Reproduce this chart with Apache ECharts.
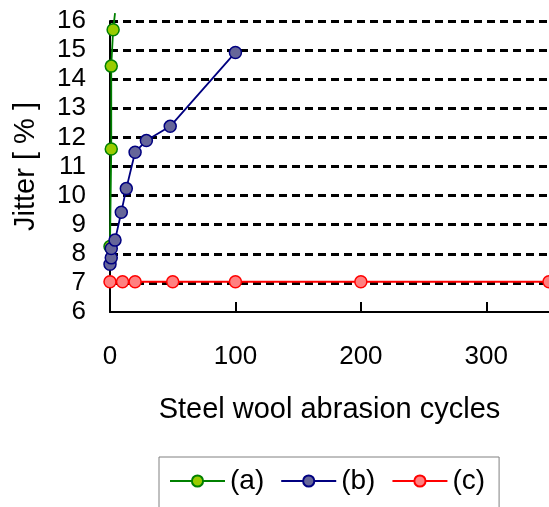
<!DOCTYPE html>
<html>
<head>
<meta charset="utf-8">
<script src="https://cdn.jsdelivr.net/npm/echarts@6/dist/echarts.min.js"></script>
<style>html,body{margin:0;padding:0;background:#fff;}#c{width:549px;height:507px;}</style>
</head>
<body>
<div id="c"></div>
<script>
// Data
const seriesNames = ['(a)', '(b)', '(c)'];
const aX = [0, 1, 1, 2.5, 4];
const aY = [8.25, 11.6, 14.45, 15.7, 16.27];
const bX = [0, 1, 1, 4, 9, 13, 20, 29, 48, 100];
const bY = [7.64, 7.86, 8.18, 8.47, 9.43, 10.24, 11.49, 11.89, 12.38, 14.92];
const cX = [0, 10, 20, 50, 100, 200, 350];
const cY = [7.04, 7.04, 7.04, 7.04, 7.04, 7.04, 7.04];
const xTicks = [0, 100, 200, 300];
const yTicks = [6, 7, 8, 9, 10, 11, 12, 13, 14, 15, 16];

const FONT = '"Liberation Sans", Arial, sans-serif';

function pairs(xs, ys, lastHidden) {
  return xs.map((x, i) => {
    const item = { value: [x, ys[i]] };
    if (lastHidden && i === xs.length - 1 && ys[i] > yTicks[yTicks.length - 1]) {
      item.symbol = 'none';
    }
    return item;
  });
}

const styles = [
  { line: '#008000', fill: '#99CC00', border: '#008000' },
  { line: '#000080', fill: '#666699', border: '#000080' },
  { line: '#FF0000', fill: '#FF8080', border: '#FF0000' }
];
const datas = [pairs(aX, aY, true), pairs(bX, bY, false), pairs(cX, cY, false)];

const chart = echarts.init(document.getElementById('c'), null, { renderer: 'canvas' });
chart.setOption({
  animation: false,
  backgroundColor: '#fff',
  textStyle: { fontFamily: FONT },
  grid: { left: 110, top: 21, right: -1, bottom: 195, containLabel: false },
  legend: {
    left: 159, top: 457,
    padding: [10, 14, 20, 10],
    borderColor: '#808080', borderWidth: 1,
    itemWidth: 55, itemHeight: 14, itemGap: 16,
    textStyle: { fontSize: 28, color: '#000', fontFamily: FONT },
    data: seriesNames
  },
  xAxis: {
    type: 'value', min: 0, max: 350, interval: 100,
    name: 'Steel wool abrasion cycles', nameLocation: 'middle', nameGap: 83,
    nameTextStyle: { fontSize: 29, color: '#000', fontFamily: FONT },
    axisLine: { lineStyle: { color: '#000', width: 2 } },
    axisTick: { show: true, inside: true, length: 10, lineStyle: { color: '#000', width: 2 } },
    axisLabel: { fontSize: 26, color: '#000', margin: 32, showMaxLabel: false, fontFamily: FONT,
      formatter: v => (xTicks.indexOf(v) >= 0 ? String(v) : '') },
    splitLine: { show: false }
  },
  yAxis: {
    type: 'value', min: 6, max: 16, interval: 1,
    name: 'Jitter [ % ]', nameLocation: 'middle', nameGap: 70, nameRotate: 90,
    nameTextStyle: { fontSize: 29, color: '#000', fontFamily: FONT },
    axisLine: { show: true, lineStyle: { color: '#000', width: 2 } },
    axisTick: { show: false },
    axisLabel: { fontSize: 26, color: '#000', margin: 24, fontFamily: FONT,
      formatter: v => (yTicks.indexOf(v) >= 0 ? String(v) : '') },
    splitLine: { show: true, showMinLine: false, lineStyle: { color: '#000', width: 3, type: [8, 5] } }
  },
  series: seriesNames.map((n, i) => ({
    name: n, type: 'line', data: datas[i],
    clip: i !== 0 ? true : false,
    symbol: 'circle', symbolSize: 12,
    lineStyle: { color: styles[i].line, width: 1.8 },
    itemStyle: { color: styles[i].fill, borderColor: styles[i].border, borderWidth: 1.5 },
    z: 3 + i
  }))
});
</script>
</body>
</html>
